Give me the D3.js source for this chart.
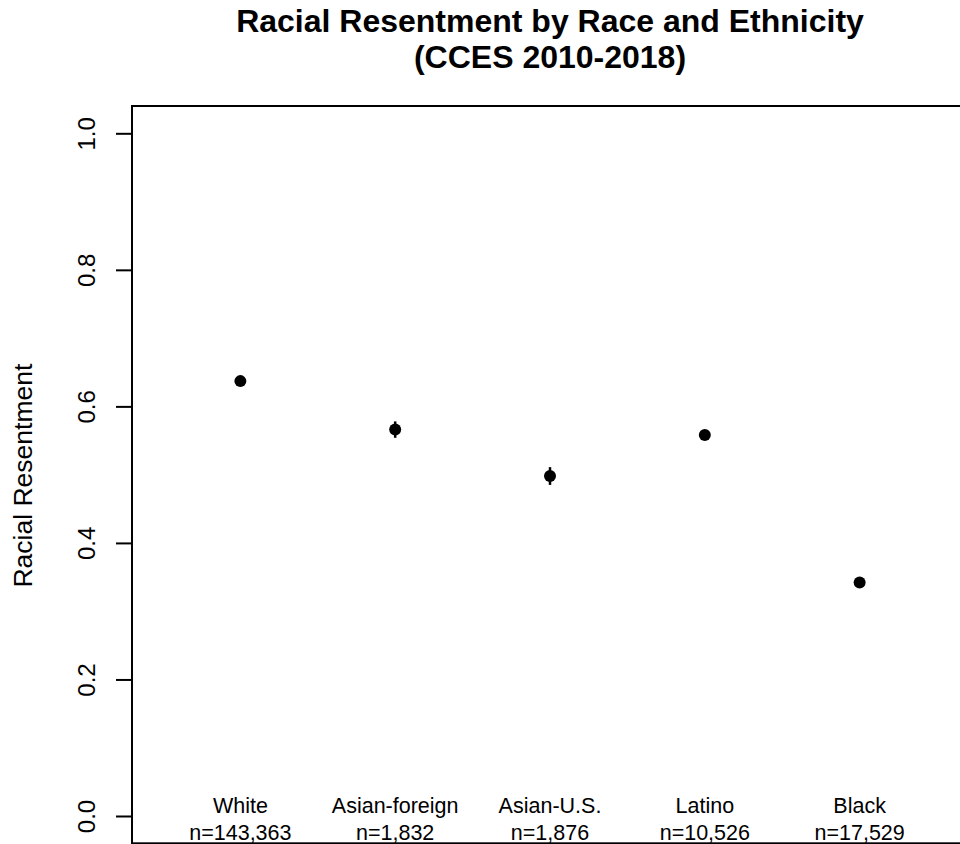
<!DOCTYPE html>
<html>
<head>
<meta charset="utf-8">
<script src="https://cdn.jsdelivr.net/npm/d3@7"></script>
<style>
  html, body { margin: 0; padding: 0; background: #fff; }
  svg { display: block; font-family: "Liberation Sans", Arial, sans-serif; }
</style>
</head>
<body>
<svg id="chart" width="960" height="844"></svg>
<script>
// ---- data ----
const categories = ["White", "Asian-foreign", "Asian-U.S.", "Latino", "Black"];
const sampleSizes = ["n=143,363", "n=1,832", "n=1,876", "n=10,526", "n=17,529"];
const meanValues = [0.637, 0.566, 0.498, 0.558, 0.342];
const ciLower = [0.636, 0.554, 0.485, 0.554, 0.339];
const ciUpper = [0.638, 0.578, 0.511, 0.562, 0.345];
const yTicks = [0.0, 0.2, 0.4, 0.6, 0.8, 1.0];
const titleLines = ["Racial Resentment by Race and Ethnicity", "(CCES 2010-2018)"];
const yLabel = "Racial Resentment";

// ---- layout ----
const svg = d3.select("#chart");
const plot = { left: 132, right: 968, top: 106, bottom: 843.3 };

const x = d3.scaleLinear().domain([0.3, 5.7]).range([plot.left, plot.right]);
const y = d3.scaleLinear().domain([-0.04, 1.04]).range([plot.bottom, plot.top]);

// title
svg.append("g").selectAll("text").data(titleLines).join("text")
  .attr("x", (plot.left + plot.right) / 2)
  .attr("y", (d, i) => 32 + i * 36)
  .attr("text-anchor", "middle")
  .attr("font-size", 32)
  .attr("font-weight", "bold")
  .attr("fill", "#000")
  .text(d => d);

// plot box
svg.append("rect")
  .attr("x", plot.left).attr("y", plot.top)
  .attr("width", plot.right - plot.left)
  .attr("height", plot.bottom - plot.top)
  .attr("fill", "none").attr("stroke", "#000").attr("stroke-width", 2);

// y axis
const yAxis = d3.axisLeft(y).tickValues(yTicks).tickFormat(d3.format(".1f")).tickSize(16).tickPadding(0);
const gy = svg.append("g").attr("transform", `translate(${plot.left},0)`).call(yAxis);
gy.select(".domain").remove();
gy.selectAll(".tick line").attr("stroke", "#000").attr("stroke-width", 2);
gy.selectAll(".tick text")
  .attr("x", 0).attr("dy", null)
  .attr("transform", "translate(-37,0) rotate(-90)")
  .attr("text-anchor", "middle")
  .attr("font-size", 24)
  .attr("font-family", "Liberation Sans, Arial, sans-serif")
  .attr("fill", "#000");

// y label
svg.append("text")
  .attr("transform", `translate(32,${(y(0) + y(1)) / 2 + 1}) rotate(-90)`)
  .attr("text-anchor", "middle")
  .attr("font-size", 26.5)
  .attr("fill", "#000")
  .text(yLabel);

// category labels
const idx = categories.map((c, i) => i + 1);
svg.append("g").selectAll("text.cat").data(categories).join("text")
  .attr("class", "cat")
  .attr("x", (d, i) => x(idx[i]))
  .attr("y", 813)
  .attr("text-anchor", "middle")
  .attr("font-size", 21.5)
  .attr("fill", "#000")
  .text(d => d);
svg.append("g").selectAll("text.n").data(sampleSizes).join("text")
  .attr("class", "n")
  .attr("x", (d, i) => x(idx[i]))
  .attr("y", 840)
  .attr("text-anchor", "middle")
  .attr("font-size", 21.5)
  .attr("fill", "#000")
  .text(d => d);

// error bars
svg.append("g").selectAll("line").data(meanValues).join("line")
  .attr("x1", (d, i) => x(idx[i])).attr("x2", (d, i) => x(idx[i]))
  .attr("y1", (d, i) => y(ciLower[i])).attr("y2", (d, i) => y(ciUpper[i]))
  .attr("stroke", "#000").attr("stroke-width", 2.5);

// points
svg.append("g").selectAll("circle").data(meanValues).join("circle")
  .attr("cx", (d, i) => x(idx[i]))
  .attr("cy", d => y(d))
  .attr("r", 6)
  .attr("fill", "#000");
</script>
</body>
</html>
